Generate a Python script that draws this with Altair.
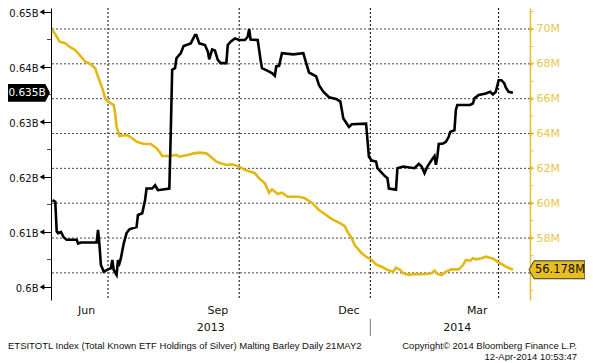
import altair as alt
import pandas as pd

# ---------------- data ----------------
black_dates = [
    "2013-05-23", "2013-05-25", "2013-05-26", "2013-05-27", "2013-05-29", "2013-05-31",
    "2013-06-02", "2013-06-09", "2013-06-10", "2013-06-12", "2013-06-23", "2013-06-24",
    "2013-06-25", "2013-06-26", "2013-06-28", "2013-07-01", "2013-07-03", "2013-07-04",
    "2013-07-05", "2013-07-07", "2013-07-08", "2013-07-09", "2013-07-10", "2013-07-12",
    "2013-07-14", "2013-07-16", "2013-07-21", "2013-07-22", "2013-07-25", "2013-07-27",
    "2013-07-28", "2013-08-01", "2013-08-03", "2013-08-05", "2013-08-13", "2013-08-14",
    "2013-08-15", "2013-08-17", "2013-08-18", "2013-08-20", "2013-08-21", "2013-08-23",
    "2013-08-28", "2013-08-31", "2013-09-01", "2013-09-03", "2013-09-07", "2013-09-09",
    "2013-09-10", "2013-09-12", "2013-09-14", "2013-09-16", "2013-09-18", "2013-09-22",
    "2013-09-23", "2013-09-25", "2013-09-28", "2013-10-01", "2013-10-05", "2013-10-07",
    "2013-10-08", "2013-10-09", "2013-10-14", "2013-10-16", "2013-10-17", "2013-10-21",
    "2013-10-24", "2013-10-26", "2013-10-27", "2013-10-29", "2013-10-31", "2013-11-08",
    "2013-11-15", "2013-11-17", "2013-11-19", "2013-11-24", "2013-11-26", "2013-11-29",
    "2013-12-03", "2013-12-08", "2013-12-11", "2013-12-12", "2013-12-13", "2013-12-17",
    "2013-12-19", "2013-12-29", "2013-12-30", "2013-12-31", "2014-01-02", "2014-01-05",
    "2014-01-06", "2014-01-11", "2014-01-13", "2014-01-14", "2014-01-19", "2014-01-20",
    "2014-01-24", "2014-02-01", "2014-02-04", "2014-02-06", "2014-02-08", "2014-02-10",
    "2014-02-13", "2014-02-15", "2014-02-16", "2014-02-17", "2014-02-18", "2014-02-21",
    "2014-02-23", "2014-02-25", "2014-02-26", "2014-03-01", "2014-03-02", "2014-03-03",
    "2014-03-12", "2014-03-14", "2014-03-15", "2014-03-18", "2014-03-23", "2014-03-26",
    "2014-03-28", "2014-03-30", "2014-04-01", "2014-04-03", "2014-04-05", "2014-04-06",
    "2014-04-08", "2014-04-11",
]
black_values = [
    0.6158, 0.6155, 0.6101, 0.6098, 0.6100, 0.6090,
    0.6086, 0.6086, 0.6079, 0.6081, 0.6081, 0.6104,
    0.6076, 0.6040, 0.6028, 0.6032, 0.6034, 0.6049,
    0.6031, 0.6022, 0.6049, 0.6043, 0.6052, 0.6079,
    0.6098, 0.6105, 0.6109, 0.6131, 0.6134, 0.6158,
    0.6179, 0.6179, 0.6185, 0.6176, 0.6179, 0.6279,
    0.6395, 0.6398, 0.6416, 0.6422, 0.6425, 0.6438,
    0.6443, 0.6458, 0.6458, 0.6443, 0.6440, 0.6428,
    0.6414, 0.6432, 0.6430, 0.6413, 0.6407, 0.6407,
    0.6440, 0.6446, 0.6452, 0.6449, 0.6449, 0.6455,
    0.6469, 0.6450, 0.6449, 0.6413, 0.6398, 0.6393,
    0.6389, 0.6384, 0.6401, 0.6402, 0.6425, 0.6423,
    0.6425, 0.6407, 0.6390, 0.6383, 0.6367, 0.6355,
    0.6345, 0.6342, 0.6337, 0.6322, 0.6307, 0.6291,
    0.6296, 0.6297, 0.6267, 0.6237, 0.6230, 0.6228,
    0.6216, 0.6202, 0.6198, 0.6179, 0.6177, 0.6216,
    0.6219, 0.6216, 0.6224, 0.6219, 0.6207, 0.6219,
    0.6231, 0.6238, 0.6222, 0.6237, 0.6260, 0.6261,
    0.6264, 0.6273, 0.6282, 0.6285, 0.6322, 0.6331,
    0.6331, 0.6334, 0.6343, 0.6349, 0.6352, 0.6355,
    0.6350, 0.6355, 0.6376, 0.6376, 0.6370, 0.6363,
    0.6355, 0.6353,
]

gold_dates = [
    "2013-05-23", "2013-05-26", "2013-05-28", "2013-06-01", "2013-06-04", "2013-06-08",
    "2013-06-11", "2013-06-15", "2013-06-18", "2013-06-22", "2013-06-24", "2013-06-27",
    "2013-06-29", "2013-07-01", "2013-07-05", "2013-07-06", "2013-07-07", "2013-07-09",
    "2013-07-14", "2013-07-18", "2013-07-21", "2013-07-26", "2013-07-31", "2013-08-04",
    "2013-08-06", "2013-08-08", "2013-08-13", "2013-08-18", "2013-08-20", "2013-08-26",
    "2013-08-30", "2013-09-03", "2013-09-08", "2013-09-11", "2013-09-15", "2013-09-18",
    "2013-09-22", "2013-09-26", "2013-10-01", "2013-10-05", "2013-10-12", "2013-10-15",
    "2013-10-19", "2013-10-22", "2013-10-24", "2013-10-28", "2013-10-31", "2013-11-04",
    "2013-11-12", "2013-11-16", "2013-11-21", "2013-11-26", "2013-12-01", "2013-12-05",
    "2013-12-10", "2013-12-14", "2013-12-16", "2013-12-19", "2013-12-21", "2013-12-23",
    "2013-12-26", "2013-12-29", "2014-01-02", "2014-01-05", "2014-01-09", "2014-01-13",
    "2014-01-17", "2014-01-19", "2014-01-22", "2014-01-24", "2014-01-28", "2014-01-31",
    "2014-02-05", "2014-02-09", "2014-02-13", "2014-02-15", "2014-02-17", "2014-02-20",
    "2014-02-23", "2014-02-27", "2014-03-04", "2014-03-07", "2014-03-09", "2014-03-12",
    "2014-03-14", "2014-03-16", "2014-03-20", "2014-03-23", "2014-03-27", "2014-03-29",
    "2014-03-31", "2014-04-03", "2014-04-06", "2014-04-11",
]
gold_values = [
    69.94, 69.56, 69.27, 69.18, 68.98, 68.79,
    68.51, 68.12, 68.03, 67.74, 67.26, 66.60,
    66.02, 65.83, 65.64, 65.16, 64.39, 63.86,
    63.92, 63.73, 63.53, 63.40, 63.40, 63.15,
    62.96, 62.71, 62.71, 62.77, 62.67, 62.77,
    62.86, 62.90, 62.86, 62.67, 62.38, 62.29,
    62.19, 62.23, 62.10, 61.91, 61.72, 61.43,
    61.14, 60.60, 60.80, 60.53, 60.60, 60.37,
    60.37, 60.28, 60.03, 59.61, 59.32, 59.09,
    58.88, 58.69, 58.36, 57.98, 57.60, 57.41,
    57.12, 56.93, 56.74, 56.49, 56.35, 56.17,
    56.07, 56.30, 56.17, 55.98, 55.88, 55.94,
    55.92, 55.94, 55.98, 56.13, 55.94, 55.88,
    56.07, 56.20, 56.20, 56.45, 56.74, 56.70,
    56.84, 56.78, 56.84, 56.93, 56.84, 56.78,
    56.64, 56.51, 56.36, 56.178,
]

left_ticks = [0.60, 0.61, 0.62, 0.63, 0.64, 0.65]
left_minor = [0.605, 0.615, 0.625, 0.635, 0.645]
right_ticks = [58, 60, 62, 64, 66, 68, 70]
right_grid = [56, 58, 60, 62, 64, 66, 68, 70]
right_minor = [55, 57, 59, 61, 63, 65, 67, 69, 71]
quarter_starts = ["2013-07-01", "2013-10-01", "2014-01-01", "2014-04-01"]
month_starts = ["2013-06-01", "2013-07-01", "2013-08-01", "2013-09-01", "2013-10-01",
                "2013-11-01", "2013-12-01", "2014-01-01", "2014-02-01", "2014-03-01",
                "2014-04-01"]
month_labels = ["Jun", "Sep", "Dec", "Mar"]
month_label_dates = ["2013-06-16", "2013-09-16", "2013-12-17", "2014-03-17"]
year_labels = ["2013", "2014"]
year_label_dates = ["2013-09-11", "2014-03-03"]
year_break = ["2014-01-01"]
x_range = ["2013-05-22", "2014-04-23"]
left_range = [0.597636, 0.650727]
right_range = [54.443, 71.2055]

footer_left = "ETSITOTL Index (Total Known ETF Holdings of Silver) Malting Barley  Daily 21MAY2"
footer_right_1 = "Copyright\u00a9 2014 Bloomberg Finance L.P."
footer_right_2 = "12-Apr-2014 10:53:47"

# ---------------- style ----------------
FONT = "DejaVu Sans"
FOOT_FONT = "Liberation Sans"
GOLD_LINE = "#E2B912"
GOLD_AXIS = "#E4BE2C"
GOLD_TEXT = "#E8C64C"
GOLD_BOX = "#E6BE1E"


def dt(s):
    y, m, d = (int(p) for p in s.split("-"))
    return alt.DateTime(year=y, month=m, date=d, utc=True)


x_scale = alt.Scale(domain=[dt(s) for s in x_range])
left_scale = alt.Scale(domain=left_range, nice=False, zero=False)
right_scale = alt.Scale(domain=right_range, nice=False, zero=False)

black_df = pd.DataFrame({"date": black_dates, "value": black_values})
gold_df = pd.DataFrame({"date": gold_dates, "value": gold_values})

vgrid = alt.Chart(pd.DataFrame({"date": quarter_starts})).mark_rule(
    color="black", strokeDash=[2, 2], strokeWidth=1
).encode(
    x=alt.X("date:T", scale=x_scale, title=None,
            axis=alt.Axis(values=[dt(s) for s in month_starts], labels=False,
                          tickSize=4, tickColor="black", domainColor="black",
                          grid=False, domainWidth=1))
)

hgrid = alt.Chart(pd.DataFrame({"v": right_grid})).mark_rule(
    color="#444444", strokeDash=[2, 2], strokeWidth=1
).encode(y=alt.Y("v:Q", scale=right_scale, axis=None))

gold_line = alt.Chart(gold_df).mark_line(color=GOLD_LINE, strokeWidth=2.6).encode(
    x=alt.X("date:T", scale=x_scale, axis=None),
    y=alt.Y("value:Q", scale=right_scale, title=None,
            axis=alt.Axis(orient="right", values=right_ticks,
                          labelExpr="datum.value + 'M'", grid=False,
                          domainColor=GOLD_AXIS, domainWidth=1.5, tickSize=0,
                          labelColor=GOLD_TEXT, labelPadding=6,
                          labelFont=FONT, labelFontSize=11)),
)

black_line = alt.Chart(black_df).mark_line(color="black", strokeWidth=2.6).encode(
    x=alt.X("date:T", scale=x_scale, axis=None),
    y=alt.Y("value:Q", scale=left_scale, title=None,
            axis=alt.Axis(orient="left", values=left_ticks,
                          labelExpr="format(datum.value, '.2~f') + 'B'", grid=False,
                          domainColor="black", domainWidth=1, tickSize=10,
                          tickColor="black", labelColor="#111111", labelPadding=3,
                          labelOffset=1.5,
                          labelFont=FONT, labelFontSize=10)),
)

left_tri = alt.Chart(pd.DataFrame({"v": left_ticks})).mark_point(
    shape="triangle-left", filled=True, size=30, color="black", opacity=1
).encode(x=alt.value(-9), y=alt.Y("v:Q", scale=left_scale, axis=None))

left_min = alt.Chart(pd.DataFrame({"v": left_minor})).mark_tick(
    orient="horizontal", color="black", size=4, thickness=1
).encode(x=alt.value(-2), y=alt.Y("v:Q", scale=left_scale, axis=None))

right_tri = alt.Chart(pd.DataFrame({"v": right_ticks})).mark_point(
    shape="triangle-right", filled=True, size=30, color=GOLD_AXIS, opacity=1
).encode(x=alt.value(481), y=alt.Y("v:Q", scale=right_scale, axis=None))

right_min = alt.Chart(pd.DataFrame({"v": right_minor})).mark_tick(
    orient="horizontal", color=GOLD_AXIS, size=4, thickness=1
).encode(x=alt.value(481), y=alt.Y("v:Q", scale=right_scale, axis=None))

black_last = pd.DataFrame({"v": [black_values[-1]]})
black_box = alt.Chart(black_last).mark_point(
    shape="M -1 -0.42 L 0.78 -0.42 L 1 0 L 0.78 0.42 L -1 0.42 Z",
    size=1764, filled=True, color="black", opacity=1
).encode(x=alt.value(-22), y=alt.Y("v:Q", scale=left_scale, axis=None))
black_box_text = alt.Chart(black_last).mark_text(
    color="white", font=FONT, fontSize=10.5, align="center", baseline="middle"
).transform_calculate(
    lab="format(datum.v, '.3f') + 'B'"
).encode(x=alt.value(-24), y=alt.Y("v:Q", scale=left_scale, axis=None), text="lab:N")

gold_last = pd.DataFrame({"v": [gold_values[-1]]})
gold_box = alt.Chart(gold_last).mark_point(
    shape="M -1 0 L -0.82 -0.32 L 1 -0.32 L 1 0.32 L -0.82 0.32 Z",
    size=3136, filled=True, fill=GOLD_BOX, stroke="#333333", strokeWidth=1, opacity=1
).encode(x=alt.value(506), y=alt.Y("v:Q", scale=right_scale, axis=None))
gold_box_text = alt.Chart(gold_last).mark_text(
    color="#111111", font=FONT, fontSize=11.5, align="center", baseline="middle"
).transform_calculate(
    lab="format(datum.v, '.3f') + 'M'"
).encode(x=alt.value(509), y=alt.Y("v:Q", scale=right_scale, axis=None), text="lab:N")

months = alt.Chart(pd.DataFrame({"date": month_label_dates, "label": month_labels})).mark_text(
    font=FONT, fontSize=11, color="#111111", baseline="middle"
).encode(x=alt.X("date:T", scale=x_scale, axis=None), y=alt.value(303), text="label:N")

years = alt.Chart(pd.DataFrame({"date": year_label_dates, "label": year_labels})).mark_text(
    font=FONT, fontSize=11, color="#111111", baseline="middle"
).encode(x=alt.X("date:T", scale=x_scale, axis=None), y=alt.value(320), text="label:N")

ybreak = alt.Chart(pd.DataFrame({"date": year_break})).mark_rule(
    color="#777777", strokeWidth=1
).encode(x=alt.X("date:T", scale=x_scale, axis=None), y=alt.value(311), y2=alt.value(328))

foot1 = alt.Chart(pd.DataFrame({"t": [footer_left]})).mark_text(
    font=FOOT_FONT, fontSize=9.5, color="#111111", align="left", baseline="middle"
).encode(x=alt.value(-43), y=alt.value(338), text="t:N")
foot2 = alt.Chart(pd.DataFrame({"t": [footer_right_1]})).mark_text(
    font=FOOT_FONT, fontSize=9.5, color="#111111", align="right", baseline="middle"
).encode(x=alt.value(526), y=alt.value(338), text="t:N")
foot3 = alt.Chart(pd.DataFrame({"t": [footer_right_2]})).mark_text(
    font=FOOT_FONT, fontSize=9.5, color="#111111", align="right", baseline="middle"
).encode(x=alt.value(526), y=alt.value(349), text="t:N")

chart = alt.layer(
    vgrid, hgrid, gold_line, black_line,
    left_tri, left_min, right_tri, right_min,
    black_box, black_box_text, gold_box, gold_box_text,
    months, years, ybreak, foot1, foot2, foot3,
).resolve_scale(y="independent").resolve_axis(y="independent").properties(
    width=479, height=292,
    padding={"left": 43, "top": 0, "right": 55, "bottom": 61},
    autosize=alt.AutoSizeParams(type="none"),
    background="white",
).configure_view(stroke=None)

chart.save("out.html", embed_options={"renderer": "svg", "actions": False})
